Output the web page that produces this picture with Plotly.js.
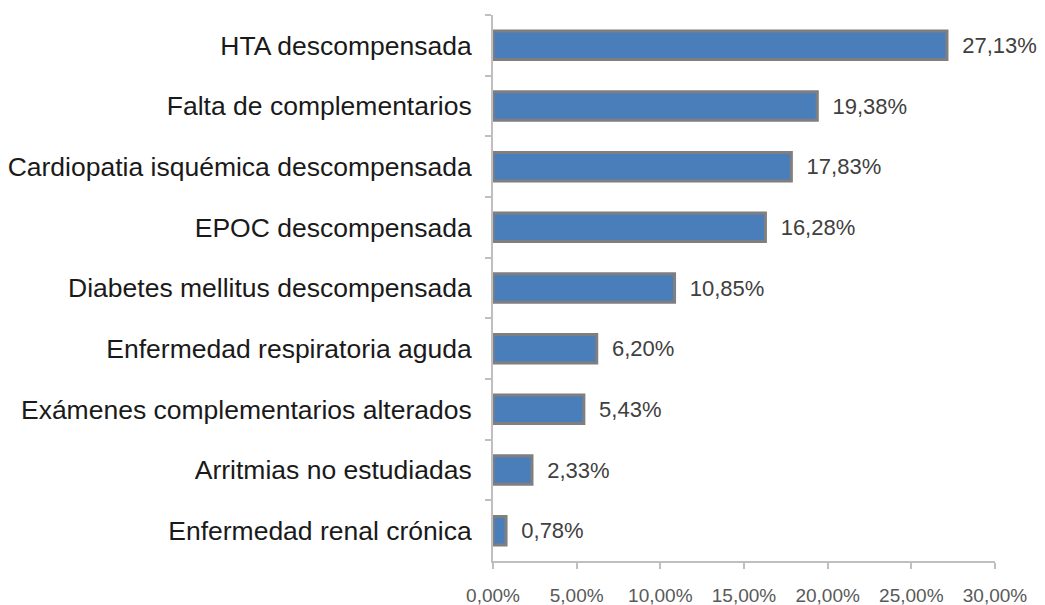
<!DOCTYPE html>
<html>
<head>
<meta charset="utf-8">
<script src="https://cdn.plot.ly/plotly-3.0.1.min.js"></script>
<style>html,body{margin:0;padding:0;background:#fff;}#chart{width:1045px;height:605px;}</style>
</head>
<body>
<div id="chart"></div>
<script>
const categories = [
  "HTA descompensada",
  "Falta de complementarios",
  "Cardiopatia isquémica descompensada",
  "EPOC descompensada",
  "Diabetes mellitus descompensada",
  "Enfermedad respiratoria aguda",
  "Exámenes complementarios alterados",
  "Arritmias no estudiadas",
  "Enfermedad renal crónica"
];
const percentValues = [27.13, 19.38, 17.83, 16.28, 10.85, 6.20, 5.43, 2.33, 0.78];
const xTickValues = [0, 5, 10, 15, 20, 25, 30];

const fmt = v => v.toFixed(2).replace(".", ",") + "%";

const trace = {
  type: "bar",
  orientation: "h",
  y: categories,
  x: percentValues,
  width: 0.47,
  marker: { color: "#4a7ebb", line: { color: "#7f7f7f", width: 3 } },
  text: percentValues.map(v => "\u00a0\u00a0" + fmt(v)),
  texttemplate: "%{text}",
  textposition: "outside",
  cliponaxis: false,
  textfont: { family: "Liberation Sans, Arial, sans-serif", size: 22, color: "#404040" },
  hoverinfo: "none"
};

const layout = {
  width: 1045,
  height: 605,
  margin: { l: 493, r: 50, t: 15, b: 44 },
  paper_bgcolor: "#ffffff",
  plot_bgcolor: "#ffffff",
  showlegend: false,
  font: { family: "Liberation Sans, Arial, sans-serif" },
  xaxis: {
    range: [0, 30],
    tickvals: xTickValues,
    ticktext: xTickValues.map(fmt),
    showgrid: false,
    zeroline: false,
    showline: true,
    linecolor: "#bfbfbf",
    linewidth: 2,
    ticks: "outside",
    ticklen: 6,
    tickcolor: "#bfbfbf",
    tickwidth: 2,
    ticklabelstandoff: 10,
    tickfont: { size: 19, color: "#595959" }
  },
  yaxis: {
    autorange: "reversed",
    showgrid: false,
    zeroline: false,
    showline: true,
    linecolor: "#bfbfbf",
    linewidth: 2,
    ticks: "outside",
    tickson: "boundaries",
    ticklen: 6,
    tickcolor: "#bfbfbf",
    tickwidth: 2,
    ticklabelstandoff: 14,
    tickfont: { size: 26.5, color: "#1a1a1a" }
  }
};

Plotly.newPlot("chart", [trace], layout, { displayModeBar: false, staticPlot: true });
</script>
</body>
</html>
